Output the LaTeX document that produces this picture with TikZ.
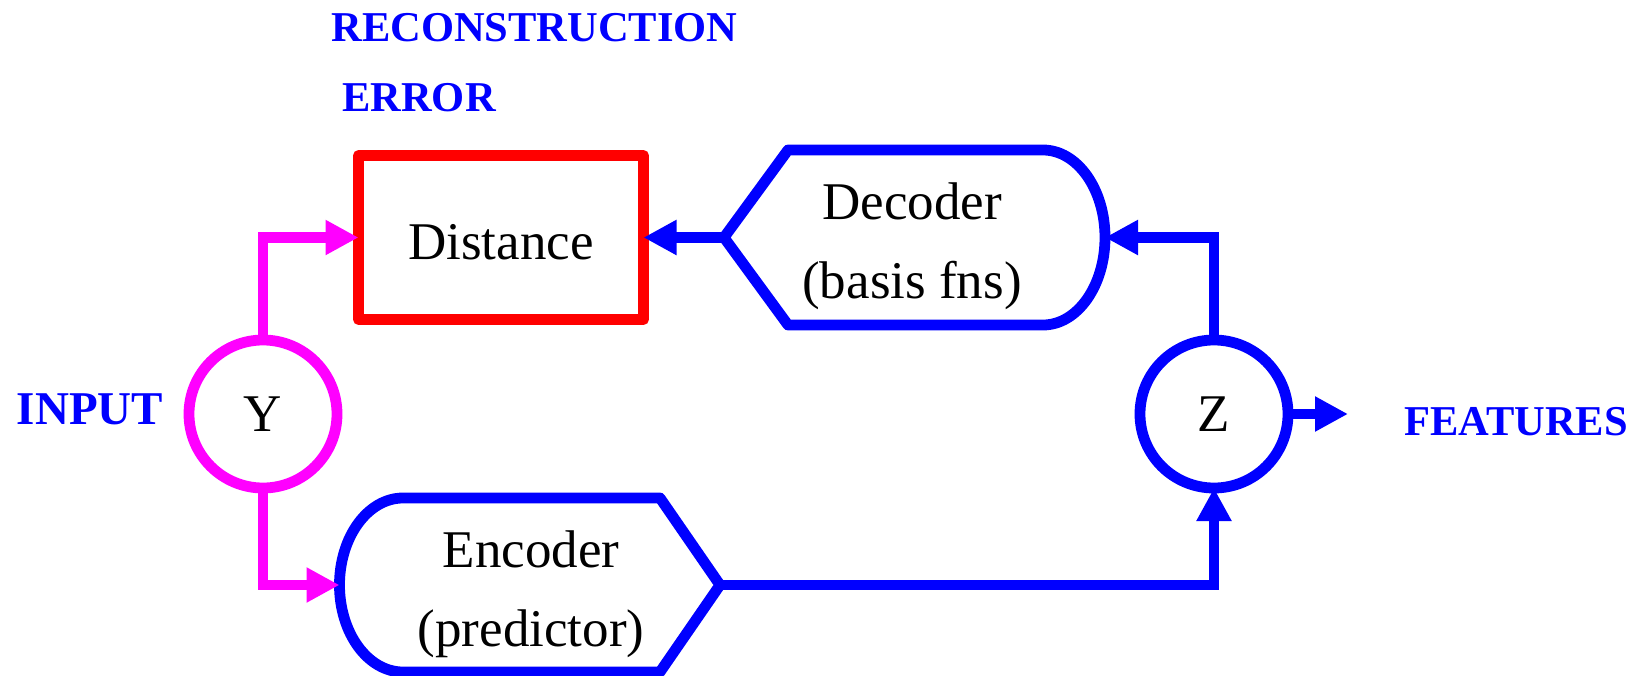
\documentclass[tikz,border=0pt]{standalone}
\usepackage{fontspec}
\setmainfont{Liberation Serif}
\usetikzlibrary{arrows.meta}
\definecolor{inpink}{RGB}{255,0,255}
\definecolor{netblue}{RGB}{0,0,255}
\definecolor{distred}{RGB}{255,0,0}

\begin{document}
\begin{tikzpicture}[x = 0.5pt, y = -0.5pt,
	wire/.style = {line width = 5.4pt, -{Triangle[length = 16.5pt, width = 16.5pt]}},
	outline/.style = {line width = 5.4pt, line join = round},
	blob/.style = {circle, outline, minimum size = 74pt, inner sep = 0pt, outer sep = 0pt, font = \fontsize{26.5}{39.5}\selectfont},
	txt/.style = {align = center, font = \fontsize{26.5}{39.5}\selectfont},
	lbl/.style = {netblue, font = \fontsize{21.25}{25}\selectfont\bfseries}]
	\useasboundingbox (0, 0) rectangle (1639, 675);
	
	% boxes
	\node[draw = distred, outline, minimum width = 142.5pt, minimum height = 82pt, inner sep = 0pt, outer sep = 0pt, txt, text height = 22pt, text depth = 0pt] (dist) at (501, 237.5) {Distance};
	\node[blob, draw = inpink] (y) at (263, 414) {Y};
	\node[blob, draw = netblue] (z) at (1214, 414) {Z};
	
	\coordinate (dectip) at (724, 237.5);
	\coordinate (decback) at (1105, 237.5);
	\coordinate (enctip) at (720, 585);
	\coordinate (encback) at (339.5, 585);
	\coordinate (zout) at (1348, 414);
	
	\draw[netblue, outline] (dectip) -- (788, 150) -- (1043, 150)
	arc[start angle = -90, end angle = 90, x radius = 62, y radius = 87.5] -- (788, 325) -- cycle;
	\draw[netblue, outline] (enctip) -- (660, 498) -- (403, 498)
	arc[start angle = -90, end angle = -270, x radius = 63.5, y radius = 87] -- (660, 672) -- cycle;
	
	\node[txt] (dec) at (912, 246) {Decoder\\(basis fns)};
	\node[txt] (enc) at (531, 594) {Encoder\\(predictor)};
	
	% labels
	\node[lbl] (recon) at (534.5, 27.5) {RECONSTRUCTION};
	\node[lbl] (err) at (419, 97.5) {ERROR};
	\node[lbl, font = \fontsize{23.5}{28}\selectfont\bfseries] (inp) at (90, 409) {INPUT};
	\node[lbl] (feat) at (1516, 422) {FEATURES};
	
	% connectors
	\draw[wire, inpink] (y.north) |- (dist.west);
	\draw[wire, inpink] (y.south) |- (encback);
	\draw[wire, netblue] (enctip) -| (z.south);
	\draw[wire, netblue] (z.north) |- (decback);
	\draw[wire, netblue] (dectip) -- (dist.east);
	\draw[wire, netblue] (z.east) -- (zout);
\end{tikzpicture}
\end{document}
